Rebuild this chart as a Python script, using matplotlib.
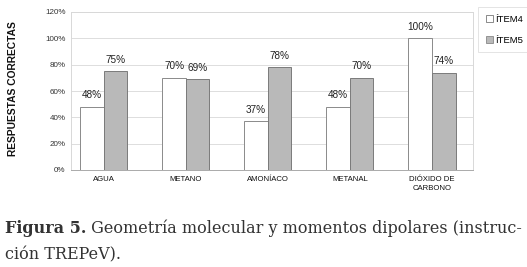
import matplotlib
matplotlib.use("Agg")
import matplotlib.pyplot as plt
import numpy as np
from matplotlib.patches import Patch

categories = ["AGUA", "METANO", "AMONÍACO", "METANAL", "DIÓXIDO DE\nCARBONO"]
item4 = [48, 70, 37, 48, 100]
item5 = [75, 69, 78, 70, 74]
series_names = ["ÍTEM4", "ÍTEM5"]
yticks = [0, 20, 40, 60, 80, 100, 120]

W, H = 527, 267
fig = plt.figure(figsize=(W/100, H/100), dpi=100)
fig.patch.set_facecolor("white")

def fx(px): return px / W
def fy(py): return 1 - py / H

left, right, top, bottom = 71, 473, 12, 170
ax = fig.add_axes([fx(left), fy(bottom), fx(right - left), (bottom - top) / H])

x = np.arange(len(categories))
bw = 0.287
b1 = ax.bar(x - bw/2, item4, bw, color="white", edgecolor="#8a8a8a", linewidth=0.7, zorder=3)
b2 = ax.bar(x + bw/2, item5, bw, color="#b9b9b9", edgecolor="#7a7a7a", linewidth=0.7, zorder=3)

for rects, vals in ((b1, item4), (b2, item5)):
    for r, v in zip(rects, vals):
        ax.text(r.get_x() + r.get_width()/2, v + 5, f"{v}%", ha="center", va="bottom",
                fontsize=7.2, family="Liberation Sans", color="#222222")

ax.set_xlim(-0.4, 4.5)
ax.set_ylim(0, 120)
ax.set_yticks(yticks)
ax.set_yticklabels([f"{t}%" for t in yticks], fontsize=5.8, family="Liberation Sans", color="#333333")
ax.set_xticks(x)
ax.set_xticklabels(categories, fontsize=5.6, family="Liberation Sans", color="#111111", linespacing=1.5)
ax.tick_params(axis="both", length=0, pad=4)
ax.grid(axis="y", color="#dddddd", linewidth=0.7, zorder=0)
for s in ax.spines.values():
    s.set_color("#d8d8d8")
    s.set_linewidth(0.7)
ax.spines["bottom"].set_color("#aaaaaa")

fig.text(fx(13), fy(89), "RESPUESTAS CORRECTAS", rotation=90, ha="center", va="center",
         fontsize=7.4, fontweight="bold", family="Liberation Sans", color="#111111")

handles = [Patch(facecolor="white", edgecolor="#777777", linewidth=0.6),
           Patch(facecolor="#b9b9b9", edgecolor="#888888", linewidth=0.6)]
leg = fig.legend(handles, series_names, loc="upper left", bbox_to_anchor=(fx(478), fy(7)),
                 prop={"family": "Liberation Sans", "size": 6.8}, frameon=True, fancybox=False,
                 handlelength=0.8, handleheight=0.8, handletextpad=0.2, borderpad=0.8,
                 labelspacing=1.3, borderaxespad=0)
leg.get_frame().set_edgecolor("#dddddd")
leg.get_frame().set_linewidth(0.7)

fs = 11.5
t1 = fig.text(fx(5), fy(233), "Figura 5.", fontsize=fs, fontweight="bold",
              family="DejaVu Serif", color="#333333", va="baseline")
ann = plt.annotate(" Geometría molecular y momentos dipolares (instruc-", xy=(1, 0), xycoords=t1,
                   va="bottom", ha="left", fontsize=fs, family="DejaVu Serif", color="#333333",
                   annotation_clip=False)
fig.text(fx(5), fy(259), "ción TREPeV).", fontsize=fs, family="DejaVu Serif",
         color="#333333", va="baseline")

fig.savefig("out.png", dpi=100)
